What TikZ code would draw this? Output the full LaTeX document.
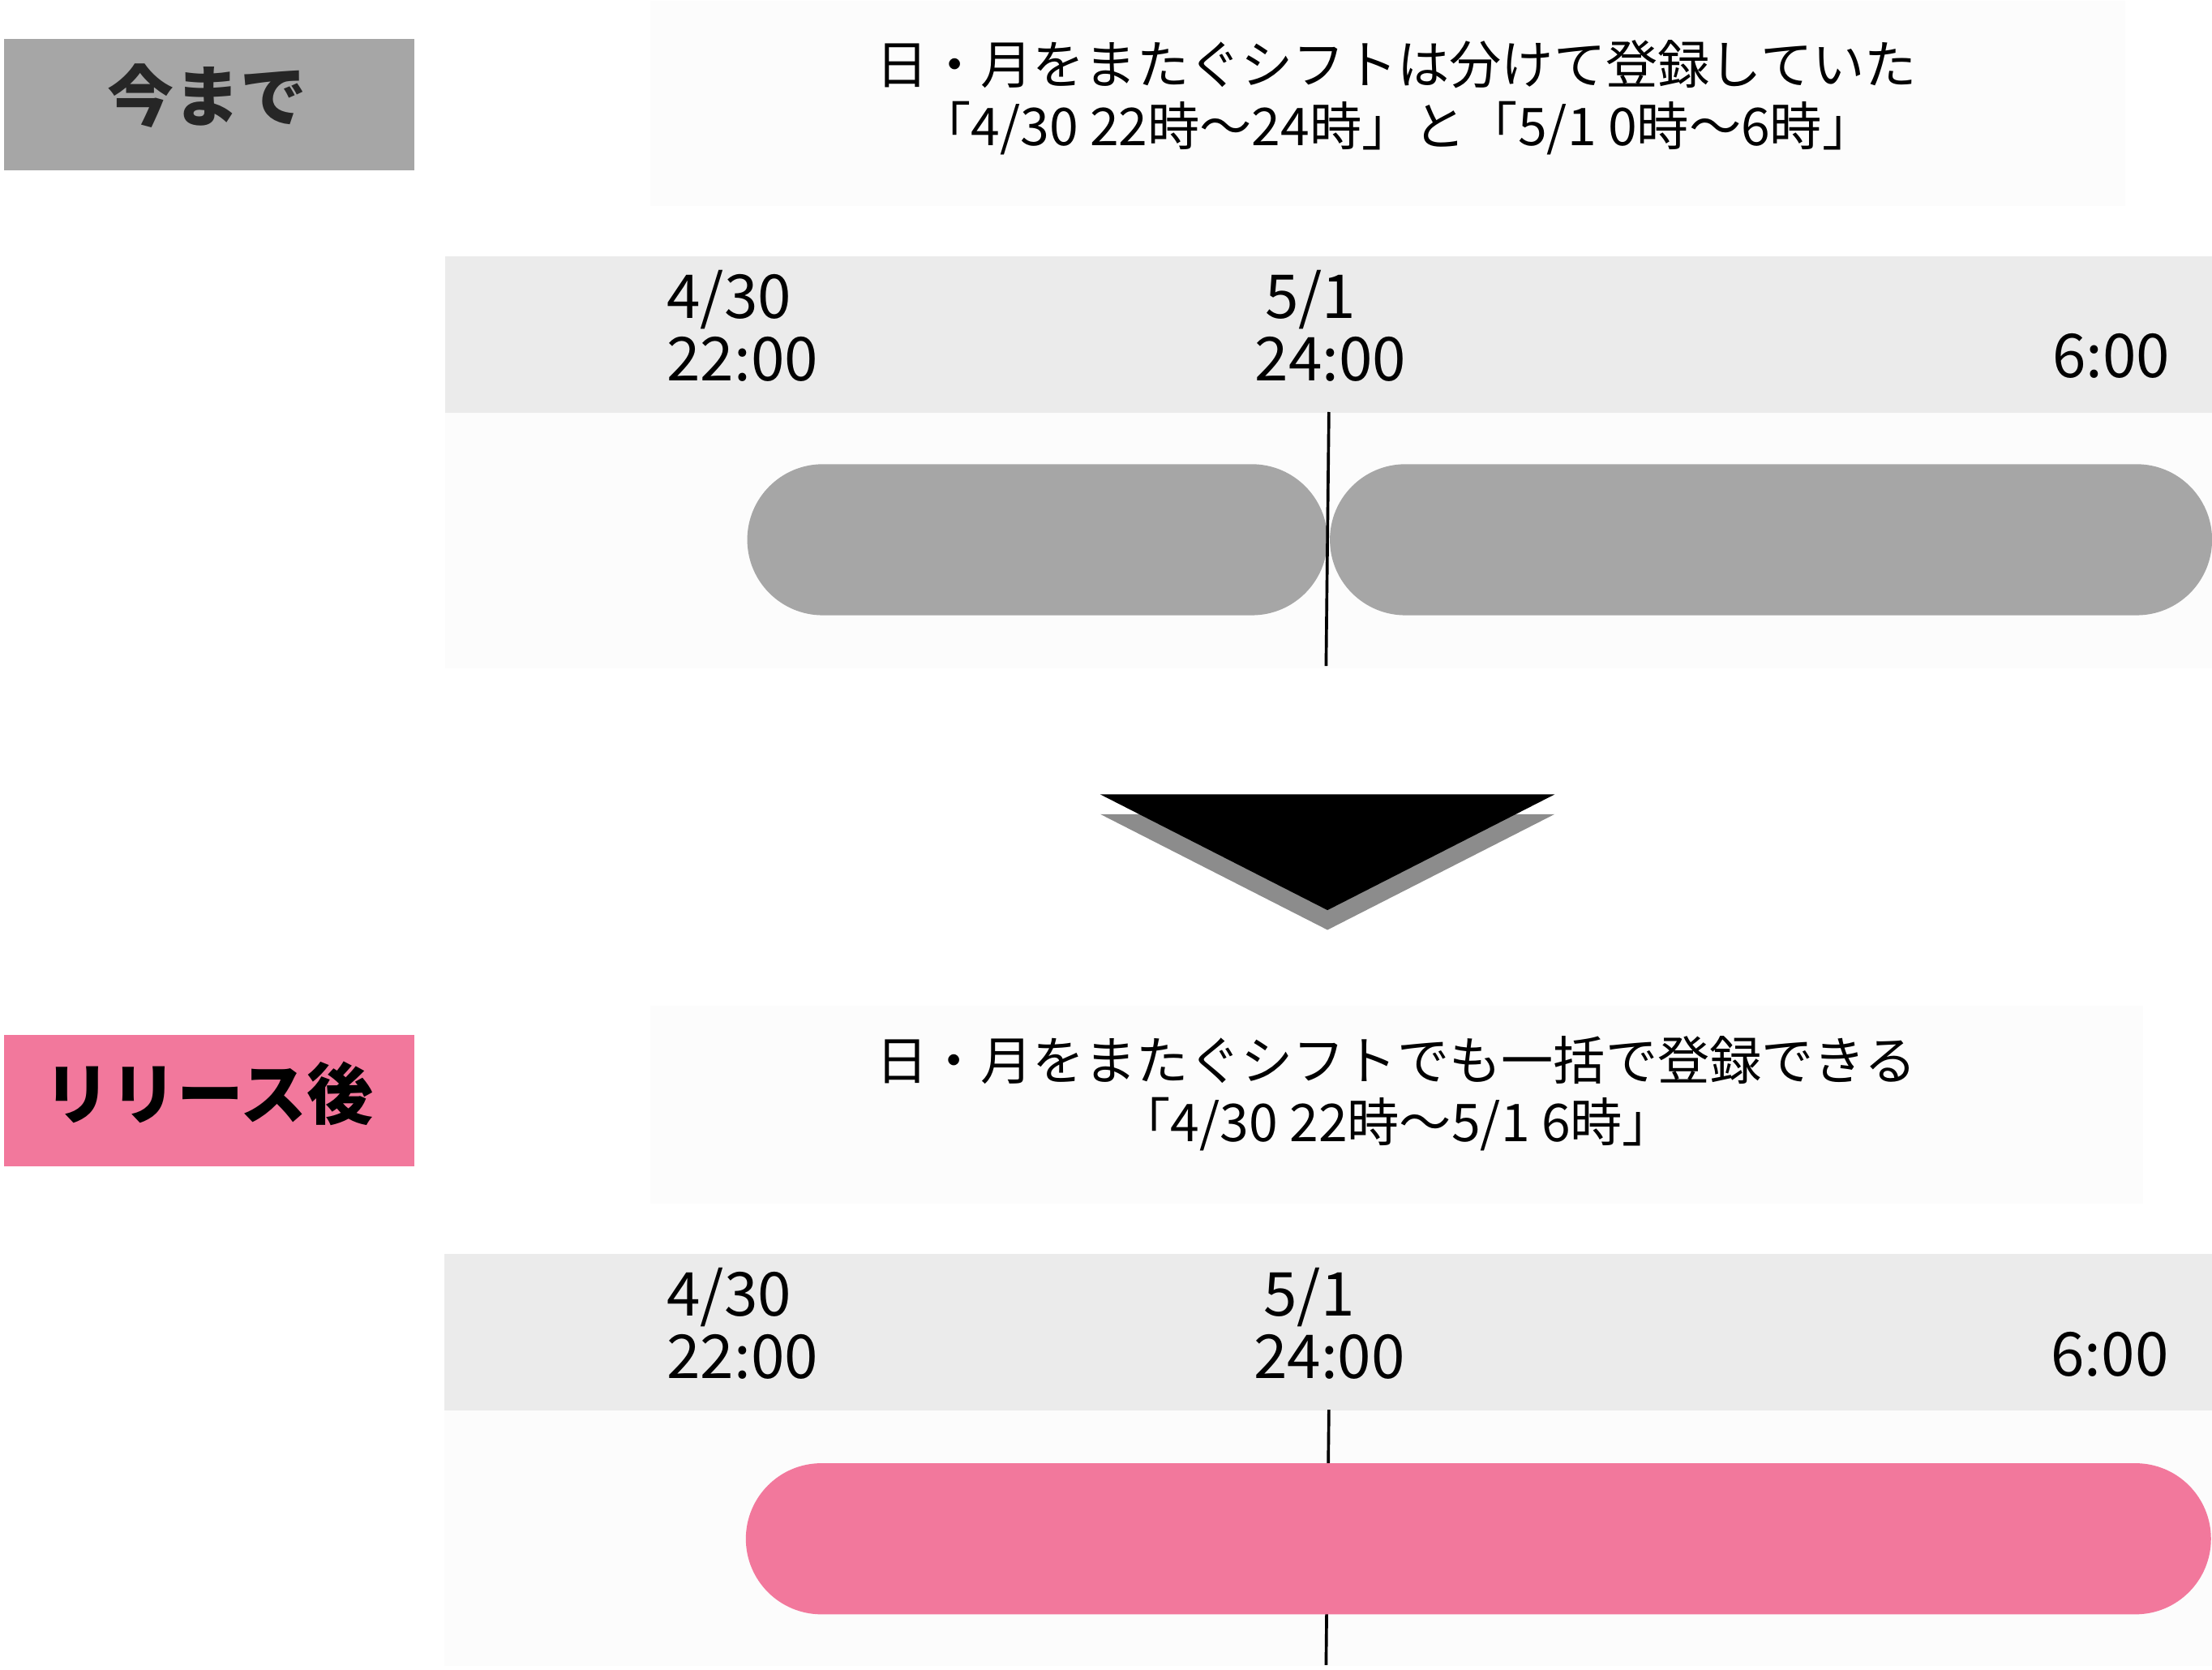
\documentclass[tikz,border=0pt]{standalone}
\usepackage{fontspec}
\setmainfont{Noto Sans CJK JP}
\usetikzlibrary{positioning}
\definecolor{labelgray}{HTML}{A6A6A6}
\definecolor{bandgray}{HTML}{EBEBEB}
\definecolor{shadowgray}{HTML}{8C8C8C}
\definecolor{releasepink}{HTML}{F2789C}
\definecolor{darktext}{HTML}{262626}
\definecolor{paper}{HTML}{FCFCFC}

\begin{document}
\begin{tikzpicture}[x=0.01cm, y=-0.01cm,
    tag/.style={fill=#1, inner sep=0pt, minimum width=2.91cm, minimum height=0.93cm,
                font=\fontsize{13.4}{15}\selectfont\bfseries, text=darktext},
    capbox/.style={fill=paper, inner sep=0pt, anchor=north west},
    caption/.style={inner sep=0pt, align=center, font=\fontsize{10.5}{12.5}\selectfont},
    band/.style={fill=bandgray, inner sep=0pt, anchor=north west,
                 minimum width=12.54cm, minimum height=1.11cm},
    lane/.style={fill=paper, inner sep=0pt, anchor=north west,
                 minimum width=12.54cm, minimum height=1.81cm},
    stamp/.style={inner sep=0pt, anchor=north west, align=left,
                  font=\fontsize{12.2}{12.6}\selectfont},
    pill/.style={fill=#1, inner sep=0pt, anchor=west, minimum height=1.07cm,
                 rounded corners=0.535cm},
    tick/.style={black, line width=0.6pt}
  ]
    \useasboundingbox (0,0) rectangle (1568,1183);

    % Before
    \node[tag=labelgray, anchor=north west] (before) at (2,27) {};
    \node[font=\fontsize{13.4}{15}\selectfont\bfseries, text=darktext] (beforetxt) at (147,68) {今まで};
    \node[capbox, minimum width=10.45cm, minimum height=1.45cm] (capboxA) at (460,0) {};
    \node[caption] (capA) at (990,69) {日・月をまたぐシフトは分けて登録していた\\「4/30 22時～24時」と「5/1 0時～6時」};

    \node[band] (bandA) at (315,181) {};
    \node[lane] (laneA) at (315,292) {};
    \node[stamp] (startA) at (472,191) {4/30\\22:00};
    \node[stamp] (midA) at (889,191) {\hspace*{2pt}5/1\\24:00};
    \node[stamp, anchor=north east] (endA) at (1539,236) {6:00};

    \node[pill=labelgray, minimum width=4.11cm] (shiftA) at (529,382.5) {};
    \node[pill=labelgray, minimum width=6.25cm] (shiftB) at (942,382.5) {};
    \coordinate (topA) at (942,292);
    \coordinate (botA) at (940,472);
    \draw[tick] (topA) -- (botA);

    % Arrow
    \fill[shadowgray] (780,577) -- (1102,577) -- (941,659) -- cycle;
    \fill[black] (780,563) -- (1102,563) -- (941,645) -- cycle;

    % After release
    \node[tag=releasepink, anchor=north west] (after) at (2,733) {};
    \node[font=\fontsize{13.4}{15}\selectfont\bfseries, text=black] (aftertxt) at (148,775) {リリース後};
    \node[capbox, minimum width=10.58cm, minimum height=1.40cm] (capboxB) at (460,712) {};
    \node[caption] (capB) at (990,775) {日・月をまたぐシフトでも一括で登録できる\\「4/30 22時～5/1 6時」};

    \node[band] (bandB) at (314,888) {};
    \node[lane] (laneB) at (314,999) {};
    \node[stamp] (startB) at (472,898) {4/30\\22:00};
    \node[stamp] (midB) at (888,898) {\hspace*{2pt}5/1\\24:00};
    \node[stamp, anchor=north east] (endB) at (1538,943) {6:00};

    \coordinate (topB) at (942,999);
    \coordinate (botB) at (940,1180);
    \draw[tick] (topB) -- (botB);
    \node[pill=releasepink, minimum width=10.38cm] (shiftC) at (528,1090.5) {};
\end{tikzpicture}
\end{document}
